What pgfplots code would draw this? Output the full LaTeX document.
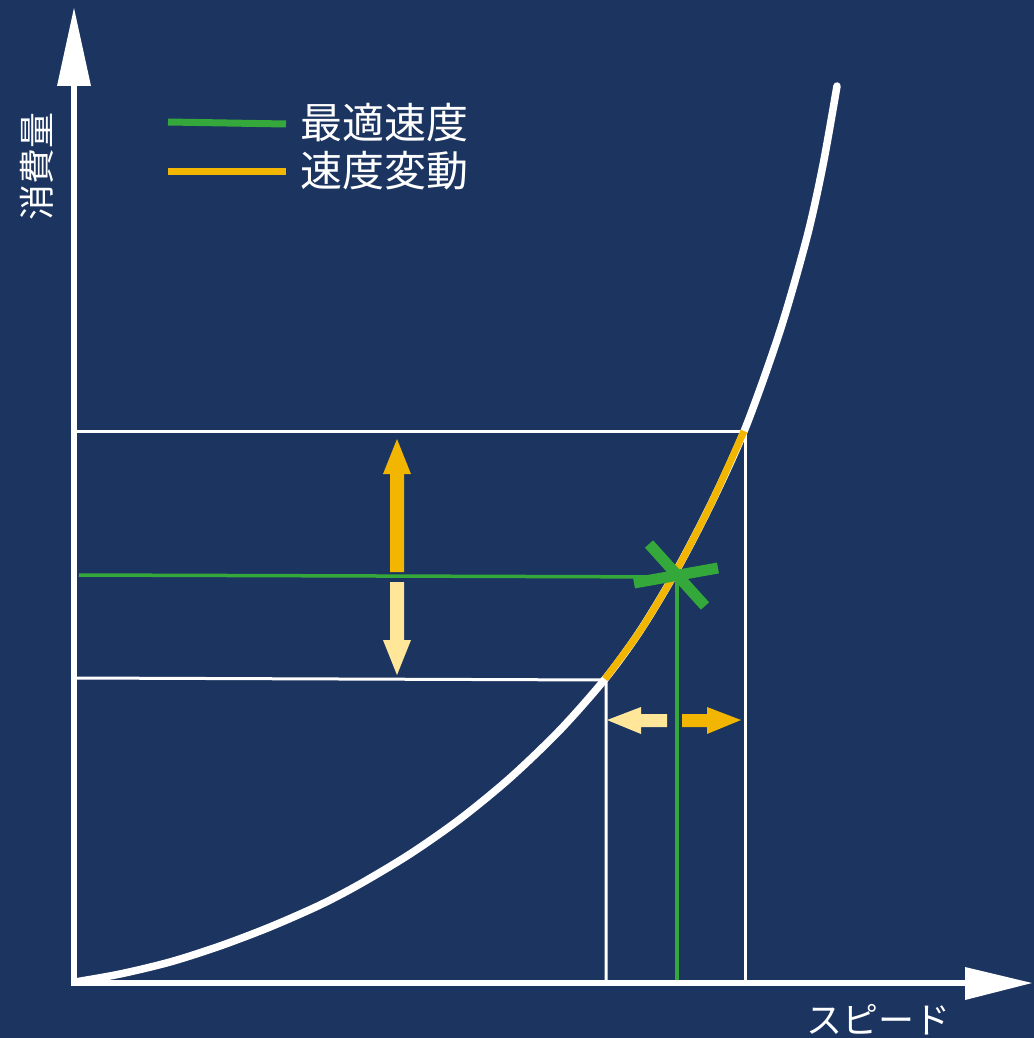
\documentclass[border=0pt]{standalone}
\usepackage{pgfplots}
\pgfplotsset{compat=1.18}
\usepackage{fontspec}
\newfontfamily\cjk{Noto Sans CJK JP}
\definecolor{bg}{RGB}{27,52,96}
\definecolor{mygreen}{RGB}{52,168,58}
\definecolor{myorange}{RGB}{242,182,0}
\definecolor{mylight}{RGB}{255,230,153}
\begin{document}
\begin{tikzpicture}
\begin{axis}[
  scale only axis, width=1034bp, height=1038bp,
  xmin=0, xmax=1034, ymin=0, ymax=1038, y dir=reverse,
  hide axis, clip=false,
]
% background
\addplot[draw=none, fill=bg] coordinates {(0,0) (1034,0) (1034,1038) (0,1038)} -- cycle;
% guide lines white
\addplot[white, line width=3bp] coordinates {(72,431) (745,431) (745,983)};
\addplot[white, line width=3bp] coordinates {(75,678) (606,680) (606,983)};
% green lines
\addplot[mygreen, line width=3.5bp] coordinates {(79,575) (677,577)};
\addplot[mygreen, line width=3.5bp] coordinates {(677,577) (677,980)};
% curve
\addplot[white, line width=7.5bp, smooth, tension=0.5, line cap=round] coordinates {
 (75,982) (120,974) (170,962) (220,946) (270,927) (320,905) (360,884) (410,854)
 (460,819) (510,778) (560,730) (605,679)
 (640,631) (675,573) (710,506) (745,429) (780,331) (807,237) (823,165) (837,86)};
% orange segment
\addplot[myorange, line width=7bp, smooth, tension=0.5] coordinates {
 (605,679) (640,631) (675,573) (710,506) (744,431)};
% green X
\addplot[mygreen, line width=11bp] coordinates {(634,583) (718,568)};
\addplot[mygreen, line width=11bp] coordinates {(649,544) (705,606)};
% axes
\addplot[white, line width=6bp] coordinates {(74,983) (74,80)};
\addplot[white, line width=6bp] coordinates {(71,983) (970,983)};
\addplot[draw=none, fill=white] coordinates {(74,8) (91,86) (57,86)} -- cycle;
\addplot[draw=none, fill=white] coordinates {(1032,983) (965,1000) (965,967)} -- cycle;
% vertical arrows
\addplot[draw=none, fill=myorange] coordinates {(390,572) (404,572) (404,474) (411,474) (397,439) (383,474) (390,474)} -- cycle;
\addplot[draw=none, fill=mylight] coordinates {(390,582) (404,582) (404,640) (411,640) (397,675) (383,640) (390,640)} -- cycle;
% horizontal arrows
\addplot[draw=none, fill=mylight] coordinates {(667,714) (667,727) (641,727) (641,734) (607,720) (641,707) (641,714)} -- cycle;
\addplot[draw=none, fill=myorange] coordinates {(682,714) (682,727) (707,727) (707,734) (741,720) (707,707) (707,714)} -- cycle;
% legend
\addplot[mygreen, line width=7bp] coordinates {(168,122) (286,124)};
\addplot[myorange, line width=7bp] coordinates {(168,172) (286,172)};
\node[anchor=west, text=white, font=\cjk\fontsize{42bp}{42bp}\selectfont, inner sep=0pt] at (axis cs:300,123) {最適速度};
\node[anchor=west, text=white, font=\cjk\fontsize{42bp}{42bp}\selectfont, inner sep=0pt] at (axis cs:300,171) {速度変動};
% axis labels
\node[rotate=90, text=white, font=\cjk\fontsize{36bp}{36bp}\selectfont, inner sep=0pt] at (axis cs:37,167) {消費量};
\node[text=white, font=\cjk\fontsize{36bp}{36bp}\selectfont, inner sep=0pt] at (axis cs:878,1020) {スピード};
\end{axis}
\end{tikzpicture}
\end{document}
